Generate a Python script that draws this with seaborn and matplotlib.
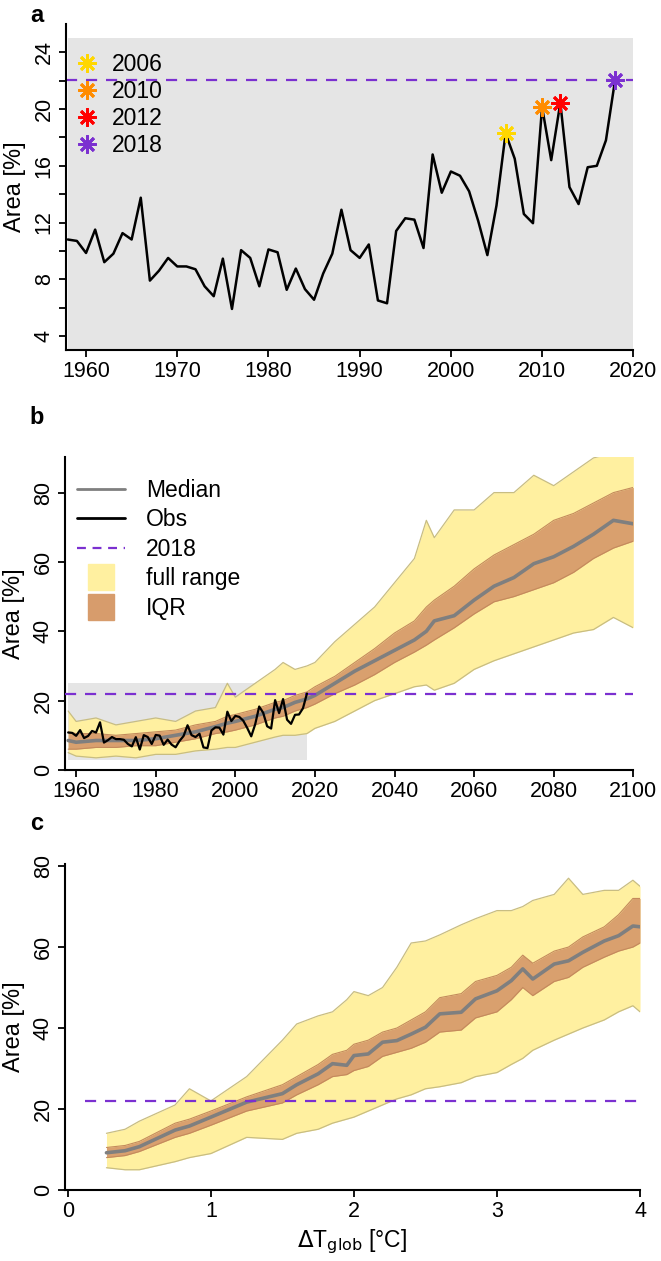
import numpy as np
import pandas as pd
import seaborn as sns
import matplotlib.pyplot as plt
from matplotlib.lines import Line2D

# ---- panel a: observed area (1958-2018)
obs_years = list(range(1958, 2019))
obs_area = [10.8, 10.7, 9.85, 11.5, 9.2, 9.8, 11.25, 10.8, 13.75, 7.9,
            8.6, 9.5, 8.9, 8.9, 8.7, 7.5, 6.8, 9.45, 5.9, 10.05,
            9.5, 7.5, 10.1, 9.9, 7.25, 8.75, 7.3, 6.55, 8.4, 9.8,
            12.9, 10.05, 9.5, 10.45, 6.5, 6.3, 11.4, 12.3, 12.2, 10.2,
            16.8, 14.1, 15.6, 15.3, 14.2, 12.1, 9.7, 13.2, 18.3, 16.5,
            12.6, 11.95, 20.15, 16.4, 20.45, 14.5, 13.3, 15.9, 16.0, 17.8,
            22.05]
star_years = [2006, 2010, 2012, 2018]
star_colors = ['#FFD700', '#FF8C00', '#FF0000', '#7B30D0']
level_2018 = 22.05

# ---- panel b: model ensemble vs year
yrs_b = [1958, 1960, 1965, 1970, 1975, 1980, 1985, 1990, 1995, 1998, 2000, 2005,
         2010, 2012, 2015, 2018, 2020, 2025, 2030, 2035, 2040, 2045, 2048, 2050,
         2055, 2060, 2065, 2070, 2075, 2080, 2085, 2090, 2095, 2100]
full_hi_b = [17, 14, 15, 13, 14, 15, 14, 17, 18, 25, 21, 25,
             29, 31, 29, 30, 31, 37, 42, 47, 54, 61, 72, 67,
             75, 75, 80, 80, 85, 82, 86, 90, 91.5, 92]
full_lo_b = [5, 4, 3.5, 4, 3.5, 4.5, 4.5, 5.5, 6, 6.5, 6.5, 8,
             9.5, 10, 10, 10.5, 12, 14, 17, 20, 22, 24, 24.5, 23,
             25, 29, 31.5, 33.5, 35.5, 37.5, 39.5, 40.5, 44, 41]
iqr_hi_b = [11, 10.5, 10.5, 10, 10.5, 11, 11.5, 13, 14, 15.5, 16, 17.5,
            19.5, 20, 21.5, 22.5, 24, 27, 31, 35, 39.5, 43, 47, 49,
            53, 58, 62, 65, 68, 72, 74, 77, 80, 81.5]
iqr_lo_b = [6, 6, 6.5, 6.5, 7, 7, 8, 9, 10.5, 11, 11.5, 13,
            15, 15.5, 17, 18, 19, 22, 24.5, 27.5, 31, 34, 36, 37.5,
            41, 45, 48.5, 50, 52, 54, 57, 61, 64, 66]
med_b = [8.5, 8, 8.5, 8.5, 8.5, 9, 10, 11, 12.5, 13.5, 14, 15.5,
         17.5, 18, 19.5, 20.5, 21.5, 25, 28.5, 31.5, 34.5, 37.5, 40, 43,
         44.5, 49, 53, 55.5, 59.5, 61.5, 64.5, 68, 72, 71]

# ---- panel c: model ensemble vs global warming
dT_c = [0.27, 0.4, 0.5, 0.75, 0.85, 1.0, 1.25, 1.5, 1.6, 1.75, 1.85, 1.95,
        2.0, 2.1, 2.2, 2.3, 2.4, 2.5, 2.6, 2.75, 2.85, 3.0, 3.1, 3.18,
        3.25, 3.4, 3.5, 3.6, 3.75, 3.85, 3.95, 4.0]
full_hi_c = [14, 15, 17, 21, 25, 22, 28, 37, 41, 43, 44, 47,
             49, 48, 50, 55, 61, 61.5, 63, 65.5, 67, 69, 69, 70,
             71.5, 73, 77, 73, 74, 74, 76.5, 75]
full_lo_c = [5.5, 5, 5, 7, 8, 9, 13, 12.5, 14, 15, 16.5, 17.5,
             18, 19.5, 21, 22.5, 23.5, 25, 25.5, 26.5, 28, 29, 31, 32.5,
             34.5, 37, 38.5, 40, 42, 44, 45.5, 44]
iqr_hi_c = [10.5, 11, 12, 16.5, 17.5, 19.5, 23, 26, 28, 31, 33.5, 34.5,
            36, 37, 39, 40, 42, 44, 47.5, 48.5, 51.5, 53, 55, 58,
            56, 59, 60, 62.5, 65, 68, 72, 72]
iqr_lo_c = [8, 8.5, 9.5, 13, 14, 16, 19.5, 21.5, 23.5, 26, 28, 28.5,
            29.5, 30.5, 33, 34, 35, 36.5, 39, 39.5, 42.5, 44, 47, 50,
            48, 51.5, 52.5, 55, 57.5, 59, 60, 61]
med_c = [9.2, 9.7, 10.7, 14.8, 15.8, 18, 21.7, 23.8, 26, 28.7, 31.2, 30.8,
         33.2, 33.6, 36.5, 36.9, 38.5, 40.2, 43.5, 43.9, 47.2, 49.2, 51.7, 54.6,
         52.1, 55.8, 56.6, 58.7, 61.5, 62.8, 65.2, 65]

YELLOW = '#FFF0A0'
OLIVE = '#C8BD82'
BROWN = '#D79C6C'
GREY = '#7F7F7F'
PURPLE = '#7B30D0'
BOXGREY = '#E5E5E5'
FS = 15.5

sns.set_theme(style='ticks')
plt.rcParams['font.family'] = ['Liberation Sans', 'DejaVu Sans']
plt.rcParams['axes.linewidth'] = 1.5
plt.rcParams['xtick.major.width'] = 1.3
plt.rcParams['ytick.major.width'] = 1.3
plt.rcParams['xtick.major.size'] = 5
plt.rcParams['ytick.major.size'] = 5
plt.rcParams['xtick.color'] = 'black'
plt.rcParams['ytick.color'] = 'black'
plt.rcParams['text.color'] = 'black'
plt.rcParams['axes.labelcolor'] = 'black'
plt.rcParams['axes.edgecolor'] = 'black'


def style_axis(ax):
	ax.spines['top'].set_visible(False)
	ax.spines['right'].set_visible(False)
	ax.tick_params(labelsize=FS, pad=3, colors='black')
	for lab in ax.get_yticklabels():
		lab.set_rotation(90)
		lab.set_va('center')
	ax.set_ylabel('Area [%]', fontsize=FS + 1.5, labelpad=6)


def ensemble(ax, x, lo, hi, qlo, qhi, med):
	ax.fill_between(x, lo, hi, color=YELLOW, lw=0, zorder=1)
	ax.plot(x, lo, color=OLIVE, lw=0.9, zorder=2)
	ax.plot(x, hi, color=OLIVE, lw=0.9, zorder=2)
	ax.fill_between(x, qlo, qhi, color=BROWN, lw=0, alpha=0.95, zorder=3)
	ax.plot(x, qlo, color='#C48A5C', lw=0.8, zorder=3)
	ax.plot(x, qhi, color='#C48A5C', lw=0.8, zorder=3)
	sns.lineplot(x=x, y=med, ax=ax, color=GREY, lw=2.6, zorder=5)


fig = plt.figure(figsize=(6.61, 12.61), dpi=100)

# ---------------- a
ax_a = fig.add_axes([0.0998, 0.7224, 0.8583, 0.2585])
ax_a.add_patch(plt.Rectangle((1958, 3), 62, 22, color=BOXGREY, lw=0, zorder=0))
ax_a.axhline(level_2018, color=PURPLE, ls=(0, (5, 4)), lw=1.6, zorder=2)
df_a = pd.DataFrame({'year': obs_years, 'area': obs_area})
sns.lineplot(data=df_a, x='year', y='area', ax=ax_a, color='black', lw=1.8, zorder=3)
handles = []
for yr, col in zip(star_years, star_colors):
	val = obs_area[obs_years.index(yr)]
	ax_a.plot(yr, val, marker=(8, 2, 0), ms=13, mew=2, color=col, zorder=4, ls='none')
	handles.append(Line2D([], [], marker=(8, 2, 0), ms=13, mew=2, color=col, ls='none', label=str(yr)))
ax_a.set_xlim(1957.8, 2020)
ax_a.set_ylim(3, 26)
ax_a.set_xticks(range(1960, 2021, 10))
ax_a.set_yticks(range(4, 25, 2))
ax_a.set_yticklabels([str(v) if v % 4 == 0 else '' for v in range(4, 25, 2)])
ax_a.set_xlabel('')
style_axis(ax_a)
ax_a.legend(handles=handles, loc='upper left', frameon=False, fontsize=FS + 1,
            handletextpad=0.6, labelspacing=0.18, borderaxespad=0.0, handlelength=1.0,
            bbox_to_anchor=(0.0, 0.94))

# ---------------- b
ax_b = fig.add_axes([0.0983, 0.3894, 0.8598, 0.248])
ax_b.add_patch(plt.Rectangle((1958, 3), 60, 22, color=BOXGREY, lw=0, zorder=0))
ensemble(ax_b, yrs_b, full_lo_b, full_hi_b, iqr_lo_b, iqr_hi_b, med_b)
ax_b.axhline(level_2018, color=PURPLE, ls=(0, (5, 4)), lw=1.6, zorder=6)
sns.lineplot(data=df_a, x='year', y='area', ax=ax_b, color='black', lw=1.6, zorder=7)
ax_b.set_xlim(1957.2, 2100)
ax_b.set_ylim(0, 90.2)
ax_b.set_xticks(range(1960, 2101, 20))
ax_b.set_yticks(range(0, 81, 20))
ax_b.set_xlabel('')
style_axis(ax_b)
leg_b = [
	Line2D([], [], color=GREY, lw=2, label='Median'),
	Line2D([], [], color='black', lw=2, label='Obs'),
	Line2D([], [], color=PURPLE, lw=1.6, ls=(0, (4, 3)), label='2018'),
	Line2D([], [], color=YELLOW, marker='s', ms=19, ls='none', label='full range'),
	Line2D([], [], color=BROWN, marker='s', ms=19, ls='none', label='IQR'),
]
ax_b.legend(handles=leg_b, loc='upper left', frameon=False, fontsize=FS + 1,
            handlelength=2.1, handletextpad=0.9, labelspacing=0.28,
            borderaxespad=0.0, bbox_to_anchor=(0.005, 0.96))

# ---------------- c
ax_c = fig.add_axes([0.0983, 0.0563, 0.870, 0.2585])
ensemble(ax_c, dT_c, full_lo_c, full_hi_c, iqr_lo_c, iqr_hi_c, med_c)
ax_c.plot([0.12, 4.0], [level_2018, level_2018], color=PURPLE, ls=(0, (5, 4)), lw=1.6, zorder=6)
ax_c.set_xlim(-0.02, 4.0)
ax_c.set_ylim(0, 80.5)
ax_c.set_xticks(range(0, 5))
ax_c.set_yticks(range(0, 81, 20))
style_axis(ax_c)
ax_c.set_xlabel(r'$\Delta$T$_{\mathrm{glob}}$ [°C]', fontsize=FS + 1, labelpad=4)

for letter, yy in zip('abc', [0.988, 0.669, 0.347]):
	fig.text(0.056, yy, letter, fontsize=17, fontweight='bold', ha='center', va='center')

fig.savefig('out.png', dpi=100)
